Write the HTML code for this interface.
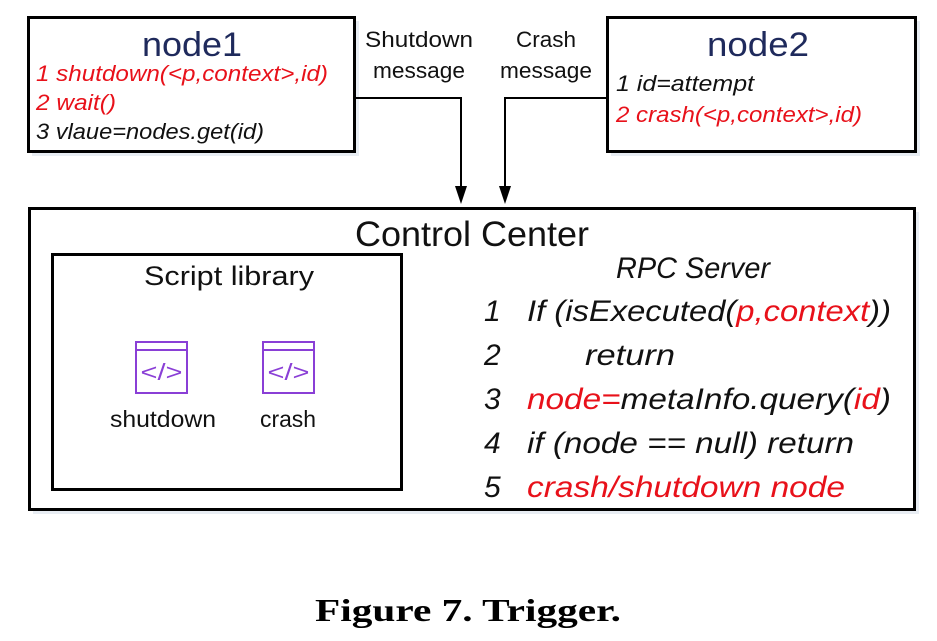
<!DOCTYPE html>
<html><head><meta charset="utf-8"><style>
html,body{margin:0;padding:0;background:#fff}
svg{display:block}
text{font-family:"Liberation Sans",sans-serif}
</style></head><body>
<svg width="937" height="641" viewBox="0 0 937 641" xmlns="http://www.w3.org/2000/svg">
<!-- shadows -->
<rect x="32" y="21" width="327" height="135" fill="#e8edf3"/>
<rect x="611" y="21" width="309" height="135" fill="#e8edf3"/>
<rect x="33" y="212" width="886" height="302" fill="#e8edf3"/>
<!-- node1 -->
<rect x="28.5" y="17.5" width="326" height="134" fill="#fff" stroke="#000" stroke-width="3"/>
<text x="192" y="56" font-size="34" fill="#1f2a5c" text-anchor="middle" textLength="100" lengthAdjust="spacingAndGlyphs">node1</text>
<text x="36" y="81" font-size="22" font-style="italic" fill="#e8111a" textLength="292" lengthAdjust="spacingAndGlyphs">1 shutdown(&lt;p,context&gt;,id)</text>
<text x="36" y="110" font-size="22" font-style="italic" fill="#e8111a" textLength="80" lengthAdjust="spacingAndGlyphs">2 wait()</text>
<text x="36" y="139" font-size="22" font-style="italic" fill="#111" textLength="228" lengthAdjust="spacingAndGlyphs">3 vlaue=nodes.get(id)</text>
<!-- node2 -->
<rect x="607.5" y="17.5" width="308" height="134" fill="#fff" stroke="#000" stroke-width="3"/>
<text x="758" y="56" font-size="34" fill="#1f2a5c" text-anchor="middle" textLength="102" lengthAdjust="spacingAndGlyphs">node2</text>
<text x="616" y="91" font-size="22" font-style="italic" fill="#111" textLength="138" lengthAdjust="spacingAndGlyphs">1 id=attempt</text>
<text x="616" y="122" font-size="22" font-style="italic" fill="#e8111a" textLength="246" lengthAdjust="spacingAndGlyphs">2 crash(&lt;p,context&gt;,id)</text>
<!-- labels -->
<text x="419" y="47" font-size="22" fill="#111" text-anchor="middle" textLength="108" lengthAdjust="spacingAndGlyphs">Shutdown</text>
<text x="419" y="78" font-size="22" fill="#111" text-anchor="middle" textLength="92" lengthAdjust="spacingAndGlyphs">message</text>
<text x="546" y="47" font-size="22" fill="#111" text-anchor="middle" textLength="60" lengthAdjust="spacingAndGlyphs">Crash</text>
<text x="546" y="78" font-size="22" fill="#111" text-anchor="middle" textLength="92" lengthAdjust="spacingAndGlyphs">message</text>
<!-- arrows -->
<polyline points="355,98 461,98 461,188" fill="none" stroke="#000" stroke-width="2"/>
<path d="M455,186 L467,186 L461,204 Z" fill="#000"/>
<polyline points="607,98 505,98 505,188" fill="none" stroke="#000" stroke-width="2"/>
<path d="M499,186 L511,186 L505,204 Z" fill="#000"/>
<!-- control center -->
<rect x="29.5" y="208.5" width="885" height="301" fill="#fff" stroke="#000" stroke-width="3"/>
<text x="472" y="246" font-size="35" fill="#111" text-anchor="middle" textLength="234" lengthAdjust="spacingAndGlyphs">Control Center</text>
<!-- script library -->
<rect x="52.5" y="254.5" width="349" height="235" fill="#fff" stroke="#000" stroke-width="3"/>
<text x="229" y="285" font-size="27" fill="#111" text-anchor="middle" textLength="170" lengthAdjust="spacingAndGlyphs">Script library</text>
<g fill="none" stroke="#8a3fd6" stroke-width="2">
<rect x="136" y="342" width="51" height="51"/><line x1="136" y1="350" x2="187" y2="350"/>
<rect x="263" y="342" width="51" height="51"/><line x1="263" y1="350" x2="314" y2="350"/>
</g>
<text x="161.5" y="380" font-size="23" fill="#8a3fd6" text-anchor="middle" textLength="42" lengthAdjust="spacingAndGlyphs">&lt;/&gt;</text>
<text x="288.5" y="380" font-size="23" fill="#8a3fd6" text-anchor="middle" textLength="42" lengthAdjust="spacingAndGlyphs">&lt;/&gt;</text>
<text x="163" y="427" font-size="23" fill="#111" text-anchor="middle" textLength="106" lengthAdjust="spacingAndGlyphs">shutdown</text>
<text x="288" y="427" font-size="23" fill="#111" text-anchor="middle" textLength="56" lengthAdjust="spacingAndGlyphs">crash</text>
<!-- RPC -->
<g font-size="30" font-style="italic" fill="#111">
<text x="693" y="278" text-anchor="middle" textLength="154" lengthAdjust="spacingAndGlyphs">RPC Server</text>
<text x="484" y="321">1</text>
<text x="484" y="365">2</text>
<text x="484" y="409">3</text>
<text x="484" y="453">4</text>
<text x="484" y="497">5</text>
<text x="527" y="321" textLength="364" lengthAdjust="spacingAndGlyphs">If (isExecuted(<tspan fill="#e8111a">p,context</tspan>))</text>
<text x="585" y="365" textLength="90" lengthAdjust="spacingAndGlyphs">return</text>
<text x="527" y="409" textLength="364" lengthAdjust="spacingAndGlyphs"><tspan fill="#e8111a">node=</tspan>metaInfo.query(<tspan fill="#e8111a">id</tspan>)</text>
<text x="527" y="453" textLength="327" lengthAdjust="spacingAndGlyphs">if (node == null) return</text>
<text x="527" y="497" fill="#e8111a" textLength="318" lengthAdjust="spacingAndGlyphs">crash/shutdown node</text>
</g>
<!-- caption -->
<text x="468" y="621" font-size="32" font-weight="bold" fill="#000" text-anchor="middle" style="font-family:'Liberation Serif',serif" textLength="306" lengthAdjust="spacingAndGlyphs">Figure 7. Trigger.</text>
</svg>
</body></html>
